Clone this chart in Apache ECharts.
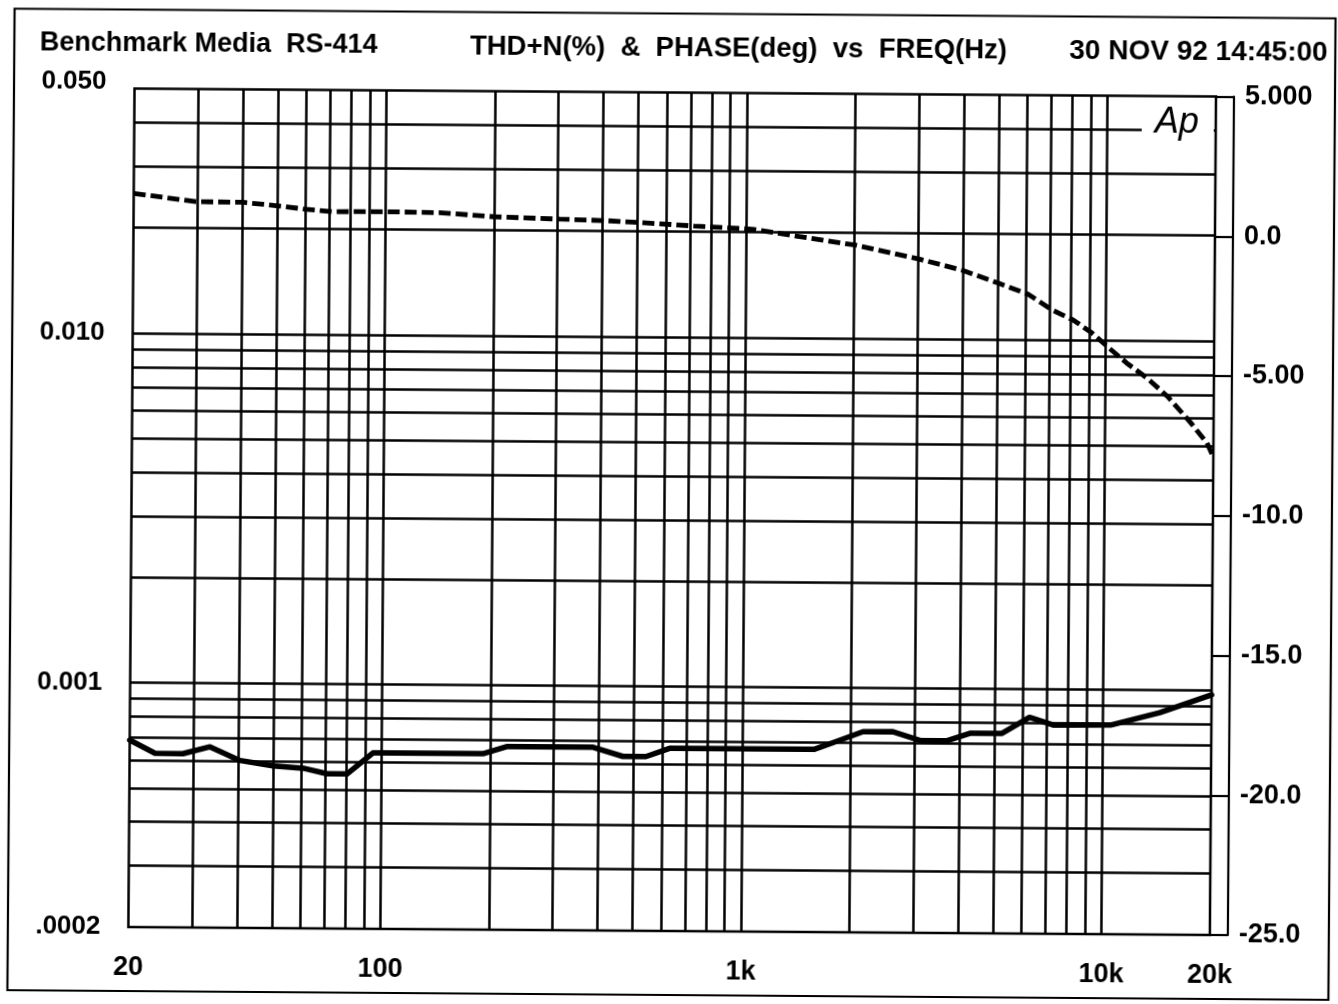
<!DOCTYPE html>
<html><head><meta charset="utf-8">
<script src="https://cdn.jsdelivr.net/npm/echarts@6/dist/echarts.min.js"></script>
<style>
html,body{margin:0;padding:0;background:#fff;overflow:hidden;width:1338px;height:1004px}
#c{width:1338px;height:1004px;transform:rotate(0.42deg);transform-origin:669px 502px;background:#fff}
</style>
</head><body><div id="c"></div>
<script>
// ---- data ----
const thdFreqHz = [20, 23.5, 28.1, 33.4, 40.5, 50, 60.7, 70.6, 80.2, 94.6, 191, 222, 386, 467, 541, 629, 1582, 1816, 2162, 2618, 3131, 3683, 4280, 5254, 6258, 7278, 10506, 14356, 20000];
const thdPercent = [0.000685, 0.000629, 0.000628, 0.000658, 0.000602, 0.000582, 0.000574, 0.000554, 0.000554, 0.000637, 0.000637, 0.000668, 0.000668, 0.000630, 0.000630, 0.000666, 0.000666, 0.000701, 0.000750, 0.000751, 0.000709, 0.000709, 0.000746, 0.000747, 0.000831, 0.000791, 0.000793, 0.000862, 0.000972];
const phaseFreqHz = [20, 29.8, 40.2, 50.5, 59.8, 71, 100, 141, 199, 304, 404, 509, 718, 1039, 1376, 2009, 3016, 3982, 5011, 6075, 7088, 8110, 9152, 10144, 11446, 13044, 14928, 17204, 19196, 20000];
const phaseDeg = [1.25, 0.97, 0.96, 0.84, 0.73, 0.65, 0.66, 0.64, 0.51, 0.44, 0.40, 0.34, 0.23, 0.13, -0.10, -0.41, -0.89, -1.28, -1.73, -2.12, -2.68, -3.03, -3.49, -3.99, -4.56, -5.09, -5.76, -6.65, -7.40, -7.90];

const xTickValues = [20, 100, 1000, 10000, 20000];
const xTickLabels = ['20', '100', '1k', '10k', '20k'];
const leftTickValues = [0.0002, 0.001, 0.01, 0.05];
const leftTickLabels = ['.0002', '0.001', '0.010', '0.050'];
const rightTickValues = [-25, -20, -15, -10, -5, 0, 5];
const rightTickLabels = ['-25.0', '-20.0', '-15.0', '-10.0', '-5.00', '0.0', '5.000'];

const xGridHz = [30, 40, 50, 60, 70, 80, 90, 100, 200, 300, 400, 500, 600, 700, 800, 900, 1000, 2000, 3000, 4000, 5000, 6000, 7000, 8000, 9000, 10000];
const yGridPercent = [0.0003, 0.0004, 0.0005, 0.0006, 0.0007, 0.0008, 0.0009, 0.001, 0.002, 0.003, 0.004, 0.005, 0.006, 0.007, 0.008, 0.009, 0.01, 0.02, 0.03, 0.04];

const titleLeft = 'Benchmark Media  RS-414';
const titleMid = 'THD+N(%)  &  PHASE(deg)  vs  FREQ(Hz)';
const titleDate = '30 NOV 92 14:45:00';

// ---- helpers ----
const FONT = '"Liberation Sans", Arial, Helvetica, sans-serif';
function lookup(vals, labels, v, isLog) {
  let best = -1, bd = Infinity;
  for (let i = 0; i < vals.length; i++) {
    const d = isLog ? Math.abs(Math.log10(v) - Math.log10(vals[i])) : Math.abs(v - vals[i]);
    if (d < bd) { bd = d; best = i; }
  }
  return bd < 0.01 ? labels[best] : '';
}

const chart = echarts.init(document.getElementById('c'), null, {renderer: 'canvas'});
const gridLines = xGridHz.map(v => ({xAxis: v})).concat(yGridPercent.map(v => ({yAxis: v})));

chart.setOption({
  animation: false,
  backgroundColor: '#fff',
  grid: {left: 131.5, right: 125, top: 92.5, bottom: 73, show: true, borderColor: '#000', borderWidth: 2.5, backgroundColor: 'transparent'},
  xAxis: {
    type: 'log', logBase: 10, min: 20, max: 20000,
    axisLine: {show: false}, axisTick: {show: false}, splitLine: {show: false},
    axisLabel: {
      show: true, showMinLabel: true, showMaxLabel: true, margin: 41, verticalAlign: 'middle',
      color: '#000', fontFamily: FONT, fontWeight: 'bold', fontSize: 27,
      formatter: v => lookup(xTickValues, xTickLabels, v, true)
    }
  },
  yAxis: [
    {
      type: 'log', logBase: 10, min: 0.0002, max: 0.05, position: 'left',
      axisLine: {show: false}, axisTick: {show: false}, splitLine: {show: false},
      axisLabel: {
        show: true, showMinLabel: true, showMaxLabel: true, margin: 28,
        color: '#000', fontFamily: FONT, fontWeight: 'bold', fontSize: 26,
        formatter: v => {
          const s = lookup(leftTickValues, leftTickLabels, v, true);
          return s === '0.050' ? '{t|' + s + '}' : s;
        },
        rich: {t: {padding: [0, 0, 14, 0], color: '#000', fontFamily: FONT, fontWeight: 'bold', fontSize: 26}}
      }
    },
    {
      type: 'value', min: -25, max: 5, interval: 5, position: 'right', offset: 18,
      axisLine: {show: true, lineStyle: {color: '#000', width: 2.2}},
      axisTick: {show: true, inside: true, length: 18, lineStyle: {color: '#000', width: 2.2}},
      splitLine: {show: false},
      axisLabel: {
        show: true, margin: 11, align: 'left',
        color: '#000', fontFamily: FONT, fontWeight: 'bold', fontSize: 27,
        formatter: v => lookup(rightTickValues, rightTickLabels, v, false)
      }
    }
  ],
  graphic: [
    {type: 'rect', z: 1, silent: true, shape: {x: 11, y: 13.5, width: 1321, height: 981.5},
     style: {fill: 'none', stroke: '#000', lineWidth: 2.2}},
    {type: 'text', z: 10, silent: true, style: {text: titleLeft, x: 36.6, y: 48, verticalAlign: 'middle', align: 'left',
      fill: '#000', font: 'bold 27px ' + FONT}},
    {type: 'text', z: 10, silent: true, style: {text: titleMid, x: 466.7, y: 48, verticalAlign: 'middle', align: 'left',
      fill: '#000', font: 'bold 27.5px ' + FONT}},
    {type: 'text', z: 10, silent: true, style: {text: titleDate, x: 1066, y: 48, verticalAlign: 'middle', align: 'left',
      fill: '#000', font: 'bold 28px ' + FONT}},
    {type: 'rect', z: 50, silent: true, shape: {x: 1139, y: 100, width: 72, height: 50}, style: {fill: '#fff'}},
    {type: 'text', z: 51, silent: true, style: {text: 'Ap', x: 1152, y: 119, verticalAlign: 'middle', align: 'left',
      fill: '#000', font: 'italic 36px ' + FONT}}
  ],
  series: [
    {
      name: 'THD+N', type: 'line', xAxisIndex: 0, yAxisIndex: 0,
      data: thdFreqHz.map((f, i) => [f, thdPercent[i]]),
      showSymbol: false, symbol: 'none', silent: true,
      lineStyle: {color: '#000', width: 5.5, join: 'round', cap: 'round'},
      markLine: {
        silent: true, symbol: ['none', 'none'], label: {show: false}, animation: false,
        precision: 10,
        lineStyle: {color: '#000', width: 2.5, type: 'solid'},
        emphasis: {disabled: true},
        data: gridLines
      },
      z: 5
    },
    {
      name: 'PHASE', type: 'line', xAxisIndex: 0, yAxisIndex: 1,
      data: phaseFreqHz.map((f, i) => [f, phaseDeg[i]]),
      showSymbol: false, symbol: 'none', silent: true,
      lineStyle: {color: '#000', width: 4.8, type: [12, 5]},
      z: 5
    }
  ]
});
</script></body></html>
